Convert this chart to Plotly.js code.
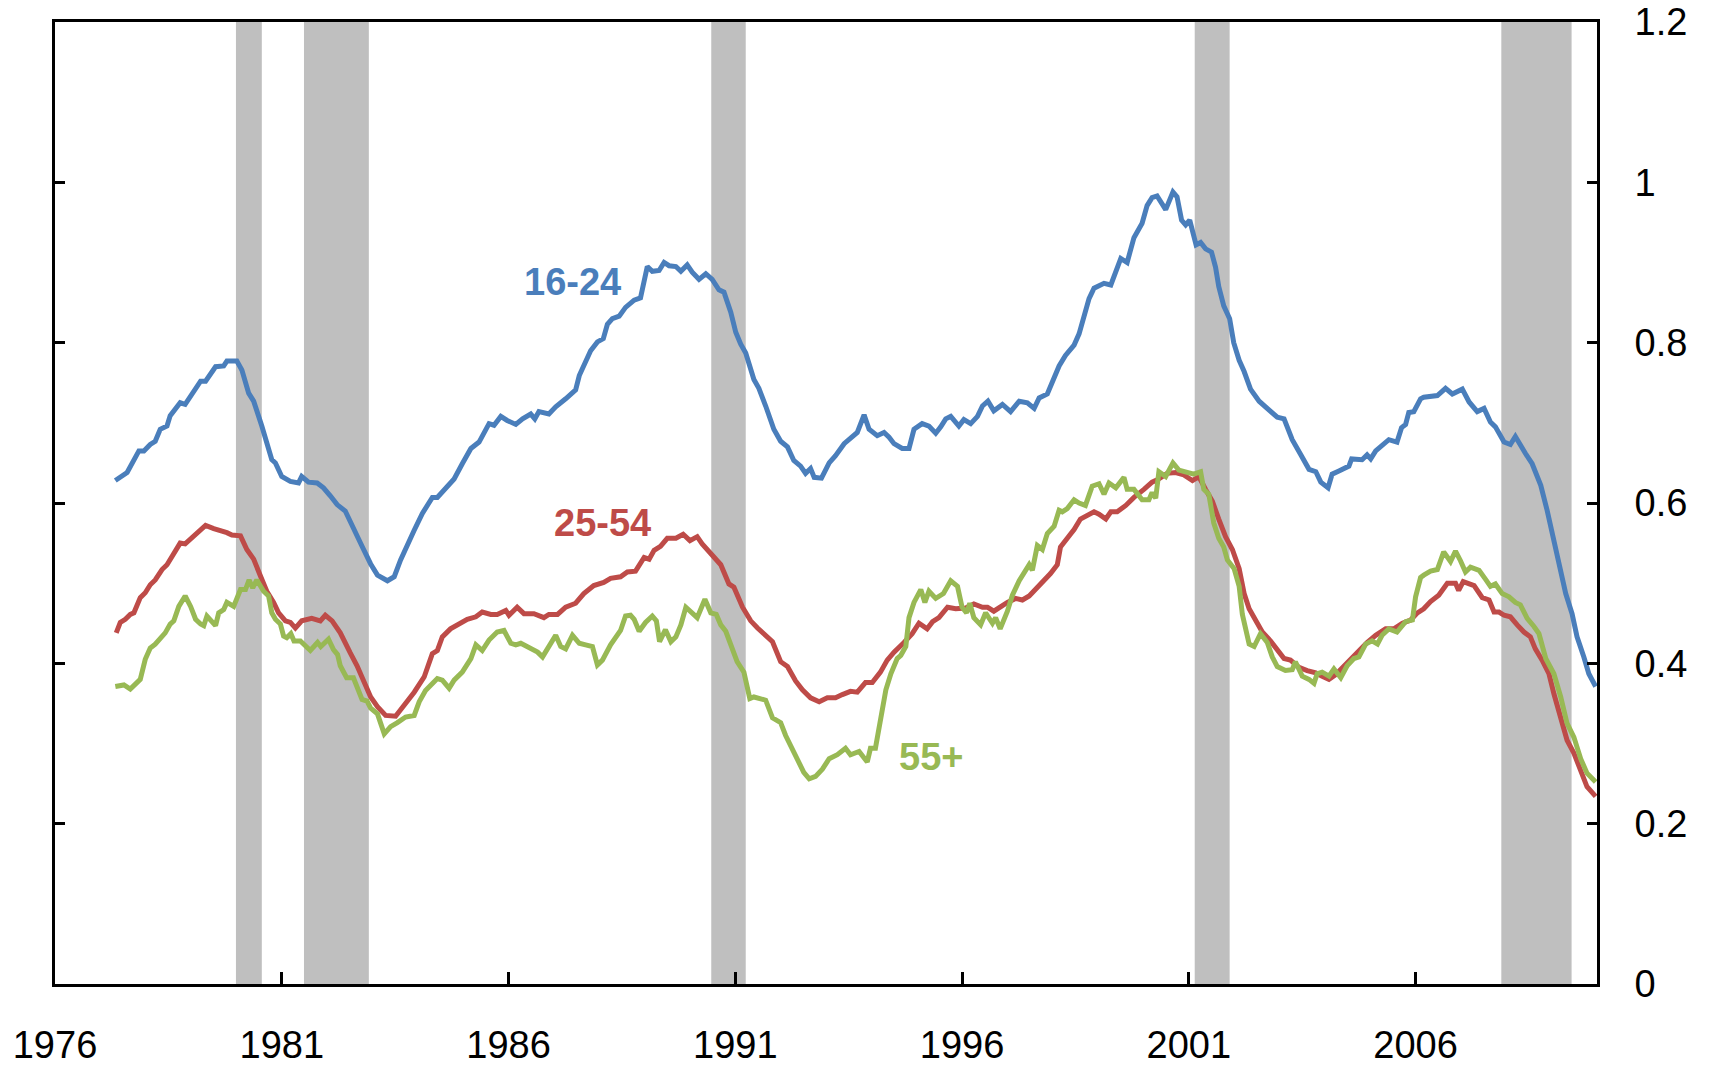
<!DOCTYPE html>
<html>
<head>
<meta charset="utf-8">
<script src="https://cdn.plot.ly/plotly-3.0.1.min.js"></script>
<style>
html,body{margin:0;padding:0;background:#fff;}
#chart{width:1709px;height:1065px;}
</style>
</head>
<body>
<div id="chart"></div>
<script>
// Recession periods (fractional years)
const recessionStart = [1979.99, 1981.49, 1990.47, 2001.13, 2007.89];
const recessionEnd   = [1980.56, 1982.92, 1991.23, 2001.90, 2009.44];

// Ages 16-24
const years1624 = [1977.33,1977.59,1977.85,1977.96,1978.10,1978.21,1978.32,1978.47,1978.54,1978.76,1978.87,1978.99,1979.21,1979.32,1979.54,1979.72,1979.79,1980.01,1980.12,1980.27,1980.38,1980.56,1980.67,1980.78,1980.86,1981.00,1981.19,1981.37,1981.44,1981.59,1981.78,1981.92,1982.07,1982.22,1982.40,1982.58,1982.77,
1982.96,1983.11,1983.33,1983.48,1983.62,1983.81,1983.92,1984.10,1984.32,1984.43,1984.58,1984.80,1984.98,1985.17,1985.35,1985.57,1985.68,1985.83,1985.97,1986.16,1986.31,1986.49,1986.58,1986.67,1986.89,1987.04,1987.26,1987.48,1987.56,1987.70,1987.81,1987.96,1988.09,1988.18,1988.29,1988.44,1988.58,
1988.77,1988.91,1989.06,1989.17,1989.32,1989.43,1989.54,1989.69,1989.80,1989.94,1990.05,1990.20,1990.35,1990.49,1990.64,1990.75,1990.90,1991.01,1991.12,1991.23,1991.41,1991.52,1991.67,1991.78,1991.85,1992.00,1992.15,1992.29,1992.44,1992.55,1992.66,1992.74,1992.90,1993.07,1993.21,1993.40,1993.54,1993.69,1993.84,1993.95,1994.13,1994.28,1994.39,1994.50,
1994.68,1994.83,1994.94,1995.12,1995.27,1995.42,1995.53,1995.64,1995.75,1995.93,1996.04,1996.19,1996.34,1996.45,1996.57,1996.70,1996.89,1997.07,1997.26,1997.44,1997.59,1997.70,1997.88,1997.99,1998.14,1998.28,1998.47,1998.58,1998.69,1998.80,1998.91,1999.13,1999.28,1999.39,1999.50,1999.64,1999.79,1999.97,2000.08,2000.19,2000.30,
2000.49,2000.65,2000.74,2000.84,2000.93,2001.02,2001.16,2001.26,2001.37,2001.50,2001.59,2001.66,2001.77,2001.90,2001.99,2002.11,2002.22,2002.36,2002.55,2002.77,2002.95,2003.10,2003.28,2003.46,2003.65,2003.80,2003.91,2004.07,2004.16,2004.31,2004.53,2004.59,2004.82,2004.93,2005.01,2005.12,2005.26,2005.41,2005.59,2005.69,2005.78,2005.85,2005.96,2006.11,
2006.18,2006.48,2006.66,2006.81,2007.03,2007.18,2007.36,2007.51,2007.65,2007.76,2007.95,2008.09,2008.20,2008.31,2008.42,2008.57,2008.76,2008.90,2009.01,2009.16,2009.31,2009.45,2009.56,2009.71,2009.82,2009.97];
const values1624 = [0.628,0.638,0.665,0.665,0.673,0.677,0.692,0.696,0.709,0.725,0.723,0.733,0.752,0.752,0.770,0.771,0.777,0.777,0.766,0.737,0.727,0.696,0.677,0.654,0.650,0.633,0.627,0.625,0.633,0.626,0.625,0.619,0.609,0.598,0.590,0.567,0.546,
0.524,0.510,0.503,0.508,0.529,0.554,0.566,0.587,0.607,0.607,0.616,0.630,0.649,0.668,0.676,0.699,0.697,0.708,0.703,0.698,0.705,0.711,0.705,0.714,0.711,0.720,0.730,0.741,0.759,0.776,0.790,0.801,0.805,0.823,0.830,0.833,0.844,
0.853,0.856,0.895,0.889,0.890,0.900,0.896,0.895,0.889,0.897,0.888,0.879,0.886,0.879,0.866,0.863,0.838,0.813,0.798,0.787,0.754,0.743,0.721,0.703,0.692,0.677,0.670,0.653,0.646,0.637,0.643,0.632,0.631,0.650,0.659,0.674,0.681,0.688,0.710,0.692,0.684,0.688,0.682,0.674,
0.668,0.668,0.692,0.699,0.696,0.687,0.695,0.705,0.708,0.696,0.704,0.699,0.708,0.721,0.727,0.715,0.723,0.714,0.727,0.725,0.718,0.731,0.736,0.751,0.771,0.784,0.797,0.811,0.835,0.855,0.868,0.874,0.872,0.890,0.905,0.900,0.931,0.949,0.971,0.981,0.983,
0.966,0.988,0.982,0.953,0.947,0.953,0.922,0.925,0.917,0.913,0.894,0.870,0.846,0.830,0.800,0.778,0.764,0.742,0.727,0.716,0.707,0.705,0.679,0.661,0.642,0.639,0.626,0.619,0.636,0.640,0.646,0.655,0.654,0.660,0.655,0.665,0.672,0.679,0.676,0.694,0.698,0.713,0.714,0.730,
0.732,0.734,0.743,0.736,0.742,0.726,0.714,0.718,0.701,0.695,0.676,0.673,0.683,0.671,0.662,0.649,0.622,0.591,0.562,0.520,0.487,0.462,0.433,0.408,0.387,0.371];

// Ages 25-54
const years2554 = [1977.35,1977.44,1977.55,1977.66,1977.74,1977.88,1977.99,1978.10,1978.21,1978.36,1978.47,1978.62,1978.76,1978.87,1979.02,1979.17,1979.32,1979.50,1979.65,1979.79,1979.90,1980.09,1980.23,1980.38,1980.53,1980.67,1980.82,1980.93,1981.08,1981.19,1981.30,1981.44,1981.66,1981.85,1981.96,1982.11,1982.29,1982.40,1982.51,1982.66,1982.80,
1982.96,1983.11,1983.29,1983.51,1983.70,1983.92,1984.14,1984.32,1984.43,1984.54,1984.72,1984.91,1985.09,1985.28,1985.42,1985.61,1985.75,1985.94,1986.01,1986.19,1986.34,1986.56,1986.78,1986.89,1987.08,1987.26,1987.48,1987.66,1987.88,1988.10,1988.25,1988.47,1988.62,
1988.80,1988.99,1989.10,1989.21,1989.35,1989.50,1989.69,1989.85,1990.00,1990.16,1990.27,1990.49,1990.68,1990.86,1990.97,1991.16,1991.34,1991.49,1991.67,1991.82,1992.00,1992.15,1992.33,1992.48,1992.66,1992.85,1993.03,1993.21,1993.36,1993.54,1993.69,1993.87,1994.02,1994.20,1994.35,1994.50,
1994.72,1994.90,1995.05,1995.23,1995.35,1995.49,1995.68,1995.86,1996.08,1996.26,1996.45,1996.56,1996.70,1996.85,1997.00,1997.18,1997.33,1997.48,1997.66,1997.80,1997.95,1998.10,1998.17,1998.32,1998.47,1998.61,1998.76,1998.91,1999.02,1999.17,1999.28,1999.42,1999.61,1999.79,2000.01,2000.19,
2000.34,2000.52,2000.71,2000.89,2001.08,2001.22,2001.37,2001.52,2001.66,2001.81,2001.96,2002.11,2002.22,2002.33,2002.47,2002.62,2002.80,2002.95,2003.10,2003.24,2003.43,2003.61,2003.80,2003.94,2004.09,2004.24,2004.42,2004.60,2004.75,2004.93,2005.12,2005.34,2005.52,2005.71,2005.89,2006.04,2006.18,
2006.33,2006.51,2006.70,2006.88,2006.95,2007.05,2007.29,2007.47,2007.62,2007.73,2007.84,2007.95,2008.09,2008.24,2008.39,2008.53,2008.64,2008.79,2008.94,2009.05,2009.20,2009.34,2009.49,2009.64,2009.78,2009.97];
const values2554 = [0.438,0.451,0.455,0.461,0.463,0.482,0.488,0.498,0.504,0.517,0.523,0.538,0.550,0.549,0.557,0.563,0.572,0.568,0.566,0.563,0.560,0.559,0.542,0.530,0.509,0.490,0.476,0.463,0.453,0.451,0.444,0.453,0.456,0.453,0.460,0.453,0.438,0.424,0.413,0.397,0.380,
0.358,0.346,0.335,0.334,0.348,0.364,0.383,0.412,0.416,0.433,0.443,0.450,0.455,0.458,0.464,0.461,0.461,0.466,0.460,0.470,0.462,0.462,0.457,0.461,0.461,0.470,0.475,0.487,0.497,0.501,0.506,0.508,0.514,
0.515,0.532,0.530,0.541,0.546,0.556,0.556,0.561,0.553,0.558,0.549,0.536,0.523,0.499,0.495,0.470,0.453,0.444,0.435,0.427,0.402,0.396,0.378,0.367,0.357,0.352,0.357,0.357,0.361,0.365,0.364,0.376,0.376,0.389,0.404,0.414,
0.426,0.437,0.450,0.443,0.452,0.457,0.470,0.468,0.469,0.474,0.470,0.470,0.465,0.471,0.476,0.481,0.479,0.484,0.494,0.502,0.512,0.523,0.545,0.556,0.567,0.580,0.585,0.589,0.586,0.580,0.589,0.589,0.597,0.607,0.617,0.626,
0.630,0.637,0.638,0.635,0.628,0.633,0.617,0.602,0.580,0.558,0.542,0.518,0.487,0.468,0.454,0.439,0.428,0.417,0.406,0.404,0.395,0.391,0.388,0.384,0.380,0.386,0.397,0.408,0.415,0.426,0.435,0.443,0.443,0.450,0.454,0.463,0.468,
0.477,0.485,0.500,0.500,0.491,0.502,0.497,0.482,0.479,0.464,0.464,0.460,0.458,0.448,0.439,0.433,0.418,0.404,0.387,0.362,0.333,0.304,0.288,0.265,0.246,0.234];

// Ages 55+
const years55 = [1977.33,1977.52,1977.66,1977.88,1977.99,1978.10,1978.21,1978.32,1978.43,1978.54,1978.62,1978.73,1978.87,1978.99,1979.10,1979.21,1979.28,1979.35,1979.54,1979.61,1979.72,1979.79,1979.94,1980.09,1980.20,1980.28,1980.36,1980.45,1980.60,1980.71,1980.78,1980.86,1980.97,1981.04,1981.11,1981.20,1981.27,1981.41,1981.63,1981.79,1981.86,1982.03,1982.14,1982.23,1982.29,1982.43,1982.58,1982.77,1982.88,
1982.96,1983.11,1983.26,1983.40,1983.55,1983.73,1983.92,1984.03,1984.17,1984.28,1984.43,1984.54,1984.69,1984.80,1984.98,1985.17,1985.28,1985.42,1985.57,1985.75,1985.90,1986.05,1986.16,1986.27,1986.49,1986.64,1986.75,1986.89,1987.04,1987.15,1987.26,1987.41,1987.56,1987.70,1987.85,1987.96,1988.07,1988.25,1988.36,1988.47,1988.58,1988.69,
1988.77,1988.88,1989.02,1989.17,1989.26,1989.33,1989.46,1989.58,1989.69,1989.80,1989.91,1990.02,1990.16,1990.33,1990.46,1990.58,1990.68,1990.79,1990.90,1991.04,1991.19,1991.32,1991.41,1991.56,1991.67,1991.82,1992.00,1992.11,1992.22,1992.37,1992.51,1992.63,1992.77,1992.92,1993.07,1993.25,1993.43,1993.54,1993.73,1993.91,1993.98,1994.09,1994.21,1994.32,1994.43,
1994.57,1994.65,1994.76,1994.83,1994.94,1995.09,1995.18,1995.27,1995.42,1995.59,1995.75,1995.90,1996.00,1996.10,1996.17,1996.26,1996.41,1996.52,1996.67,1996.74,1996.84,1997.00,1997.11,1997.26,1997.37,1997.48,1997.55,1997.66,1997.77,1997.88,1998.03,1998.14,1998.21,1998.32,1998.47,1998.58,1998.72,1998.87,1999.02,1999.13,1999.24,1999.39,1999.57,1999.64,1999.79,1999.97,2000.12,2000.19,2000.27,2000.34,
2000.49,2000.65,2000.78,2000.97,2001.11,2001.26,2001.33,2001.44,2001.55,2001.66,2001.77,2001.85,2002.00,2002.11,2002.18,2002.33,2002.44,2002.58,2002.73,2002.84,2002.95,2003.13,2003.28,2003.35,2003.50,2003.65,2003.76,2003.83,2003.94,2004.09,2004.20,2004.35,2004.49,2004.64,2004.75,2004.90,2005.04,2005.16,2005.26,2005.41,2005.59,2005.78,2005.93,2006.00,2006.11,
2006.18,2006.33,2006.48,2006.62,2006.77,2006.88,2006.99,2007.10,2007.21,2007.40,2007.54,2007.65,2007.76,2007.91,2008.06,2008.20,2008.31,2008.46,2008.61,2008.72,2008.87,2009.05,2009.20,2009.34,2009.49,2009.64,2009.78,2009.97];
const values55 = [0.371,0.373,0.368,0.380,0.405,0.419,0.424,0.432,0.438,0.449,0.453,0.471,0.484,0.471,0.455,0.449,0.447,0.459,0.447,0.463,0.467,0.476,0.471,0.492,0.492,0.504,0.494,0.504,0.490,0.484,0.463,0.455,0.449,0.434,0.432,0.437,0.428,0.428,0.416,0.426,0.421,0.430,0.417,0.411,0.397,0.382,0.382,0.355,0.353,
0.344,0.337,0.312,0.321,0.326,0.333,0.335,0.352,0.366,0.373,0.381,0.379,0.369,0.379,0.389,0.406,0.423,0.416,0.429,0.439,0.441,0.425,0.423,0.425,0.418,0.414,0.408,0.421,0.435,0.421,0.418,0.435,0.425,0.423,0.421,0.398,0.404,0.423,0.431,0.441,0.459,0.460,
0.455,0.440,0.451,0.459,0.453,0.427,0.442,0.427,0.433,0.448,0.470,0.464,0.457,0.480,0.463,0.461,0.448,0.440,0.422,0.402,0.389,0.356,0.358,0.356,0.354,0.332,0.326,0.310,0.297,0.281,0.264,0.256,0.259,0.268,0.281,0.286,0.294,0.286,0.290,0.277,0.294,0.294,0.330,0.367,0.387,
0.406,0.410,0.421,0.457,0.476,0.492,0.476,0.490,0.481,0.487,0.503,0.496,0.470,0.463,0.475,0.457,0.448,0.463,0.450,0.457,0.443,0.465,0.485,0.503,0.514,0.523,0.516,0.547,0.542,0.562,0.571,0.591,0.589,0.593,0.604,0.600,0.597,0.621,0.624,0.611,0.625,0.619,0.632,0.617,0.617,0.604,0.604,0.613,0.606,0.639,
0.633,0.650,0.641,0.639,0.636,0.639,0.617,0.611,0.575,0.556,0.545,0.529,0.518,0.496,0.461,0.424,0.421,0.437,0.426,0.408,0.396,0.391,0.392,0.402,0.384,0.380,0.375,0.387,0.389,0.384,0.393,0.382,0.397,0.406,0.408,0.424,0.428,0.424,0.435,0.443,0.439,0.452,0.454,0.483,0.507,
0.510,0.515,0.517,0.539,0.527,0.540,0.528,0.514,0.520,0.516,0.505,0.496,0.499,0.487,0.483,0.476,0.473,0.456,0.446,0.437,0.406,0.387,0.358,0.325,0.308,0.281,0.263,0.252];

// Axis ticks
const xTickVals = [1976, 1981, 1986, 1991, 1996, 2001, 2006];
const xTickText = ["1976", "1981", "1986", "1991", "1996", "2001", "2006"];
const yTickVals = [0, 0.2, 0.4, 0.6, 0.8, 1.0, 1.2];
const yTickText = ["0", "0.2", "0.4", "0.6", "0.8", "1", "1.2"];

// Series labels
const seriesNames = ["16-24", "25-54", "55+"];
const labelX = [1987.41, 1988.08, 1995.31];
const labelY = [0.876, 0.575, 0.283];

const colors = ["#4A7EBB", "#BE4B48", "#98B954"];
const FONT = "Liberation Sans, Arial, Helvetica, sans-serif";

const xs = [years1624, years2554, years55];
const ys = [values1624, values2554, values55];

const traces = xs.map((x, i) => ({
  x: x, y: ys[i], type: "scatter", mode: "lines", name: seriesNames[i],
  line: {color: colors[i], width: 5}, hoverinfo: "skip"
}));

const shapes = recessionStart.map((s, i) => ({
  type: "rect", xref: "x", yref: "paper", x0: s, x1: recessionEnd[i], y0: 0, y1: 1,
  fillcolor: "#BFBFBF", line: {width: 0}, layer: "below"
}));

const annotations = seriesNames.map((n, i) => ({
  x: labelX[i], y: labelY[i], xref: "x", yref: "y", text: "<b>" + n + "</b>",
  showarrow: false, font: {family: FONT, size: 38, color: colors[i]},
  xanchor: "center", yanchor: "middle"
}));

const layout = {
  width: 1709, height: 1065,
  margin: {l: 55, r: 112, t: 22, b: 81, pad: 0},
  paper_bgcolor: "#ffffff", plot_bgcolor: "#ffffff",
  showlegend: false,
  font: {family: FONT, size: 38, color: "#000000"},
  xaxis: {
    range: [1976, 2010], tickmode: "array", tickvals: xTickVals, ticktext: xTickText,
    ticks: "inside", ticklen: 12, tickwidth: 3, tickcolor: "#000",
    showline: true, linecolor: "#000", linewidth: 3, mirror: true,
    showgrid: false, zeroline: false, ticklabelstandoff: 25,
    tickfont: {family: FONT, size: 38, color: "#000"}
  },
  yaxis: {
    range: [0, 1.2], side: "right", tickmode: "array", tickvals: yTickVals, ticktext: yTickText,
    ticks: "inside", ticklen: 10, tickwidth: 3, tickcolor: "#000",
    showline: true, linecolor: "#000", linewidth: 3, mirror: "ticks",
    showgrid: false, zeroline: false, ticklabelstandoff: 27,
    tickfont: {family: FONT, size: 38, color: "#000"}
  },
  shapes: shapes,
  annotations: annotations,
  hovermode: false
};

Plotly.newPlot("chart", traces, layout, {displayModeBar: false, staticPlot: true});
</script>
</body>
</html>
